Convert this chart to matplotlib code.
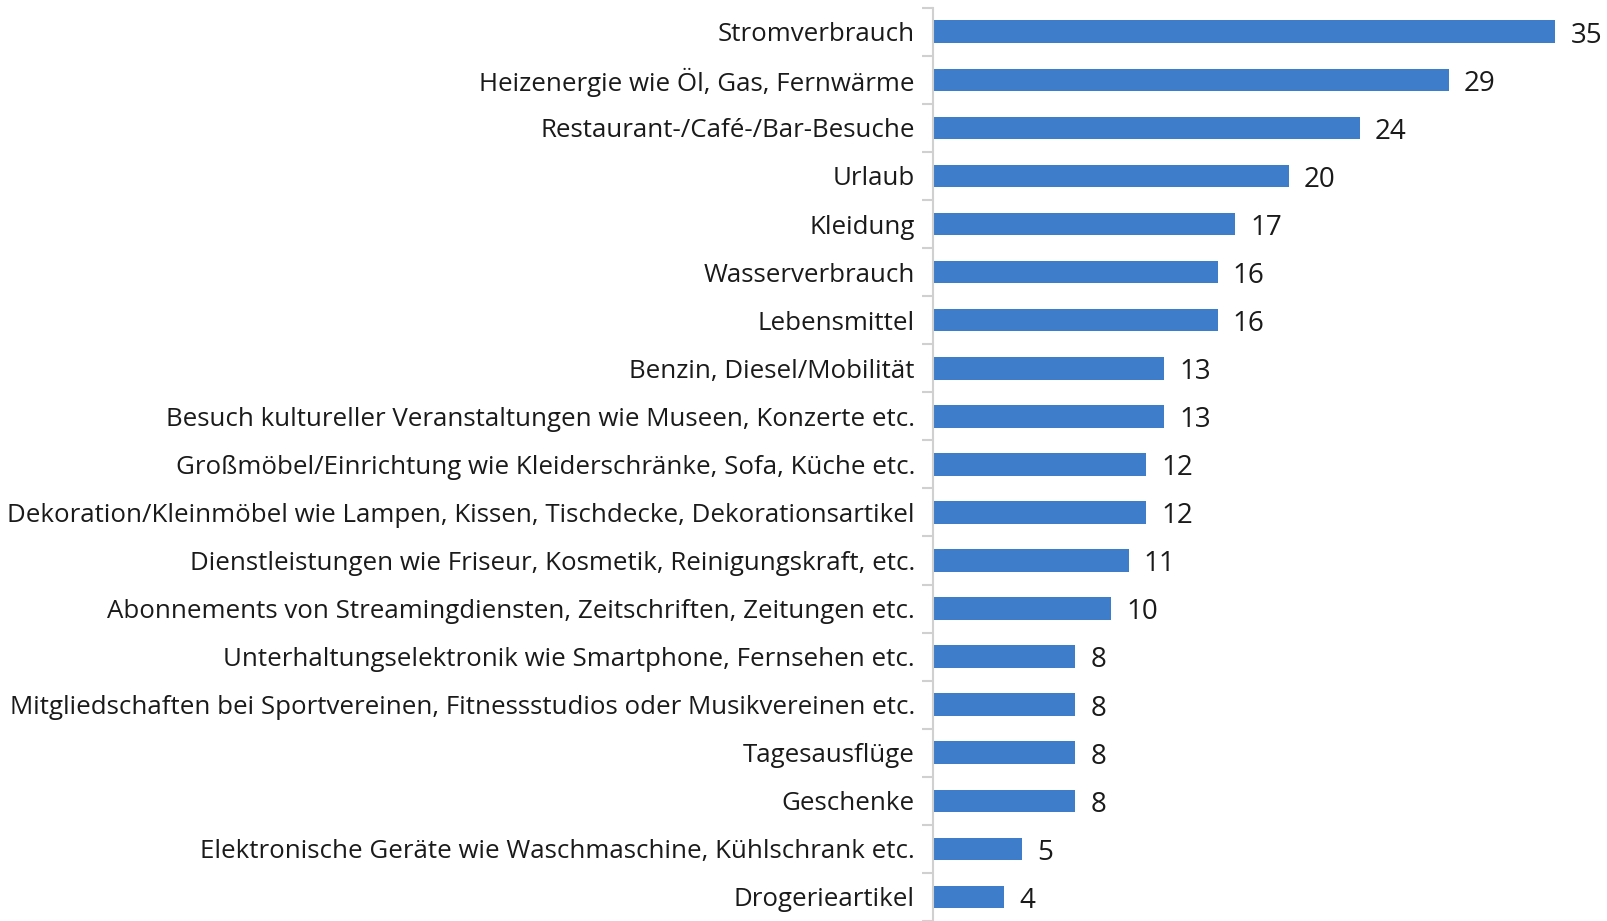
import matplotlib
matplotlib.use("Agg")
import matplotlib.pyplot as plt
import numpy as np

categories = [
    "Stromverbrauch",
    "Heizenergie wie Öl, Gas, Fernwärme",
    "Restaurant-/Café-/Bar-Besuche",
    "Urlaub",
    "Kleidung",
    "Wasserverbrauch",
    "Lebensmittel",
    "Benzin, Diesel/Mobilität",
    "Besuch kultureller Veranstaltungen wie Museen, Konzerte etc.",
    "Großmöbel/Einrichtung wie Kleiderschränke, Sofa, Küche etc.",
    "Dekoration/Kleinmöbel wie Lampen, Kissen, Tischdecke, Dekorationsartikel",
    "Dienstleistungen wie Friseur, Kosmetik, Reinigungskraft, etc.",
    "Abonnements von Streamingdiensten, Zeitschriften, Zeitungen etc.",
    "Unterhaltungselektronik wie Smartphone, Fernsehen etc.",
    "Mitgliedschaften bei Sportvereinen, Fitnessstudios oder Musikvereinen etc.",
    "Tagesausflüge",
    "Geschenke",
    "Elektronische Geräte wie Waschmaschine, Kühlschrank etc.",
    "Drogerieartikel",
]
values = [35, 29, 24, 20, 17, 16, 16, 13, 13, 12, 12, 11, 10, 8, 8, 8, 8, 5, 4]

plt.rcParams["font.family"] = ["Open Sans", "DejaVu Sans"]

fig = plt.figure(figsize=(16.07, 9.21), dpi=100)
ax = fig.add_axes([933 / 1607, 0.0, 1 - 933 / 1607, (921 - 7.7) / 921])

y = np.arange(len(categories))
ax.barh(y, values, height=0.47, color="#3E7DCA")
ax.set_ylim(len(categories) - 0.5, -0.5)
ax.set_xlim(0, 37.9)

ax.set_yticks(y)
ax.set_yticklabels(categories, fontsize=18.6, color="#1a1a1a")
# grey tick marks between the categories
ax.set_yticks(np.arange(-0.5, len(categories), 1), minor=True)
ax.tick_params(axis="y", which="major", length=0, pad=13)
ax.tick_params(axis="y", which="minor", length=8, width=1.5, color="#d0d0d0")
ax.set_xticks([])

for s in ["top", "right", "bottom"]:
    ax.spines[s].set_visible(False)
ax.spines["left"].set_color("#d0d0d0")
ax.spines["left"].set_linewidth(1.5)

for yi, v in zip(y, values):
    ax.text(v + 0.85, yi + 0.08, str(v), va="center", ha="left", fontsize=20, color="#1a1a1a")

fig.savefig("out.png", dpi=100)
